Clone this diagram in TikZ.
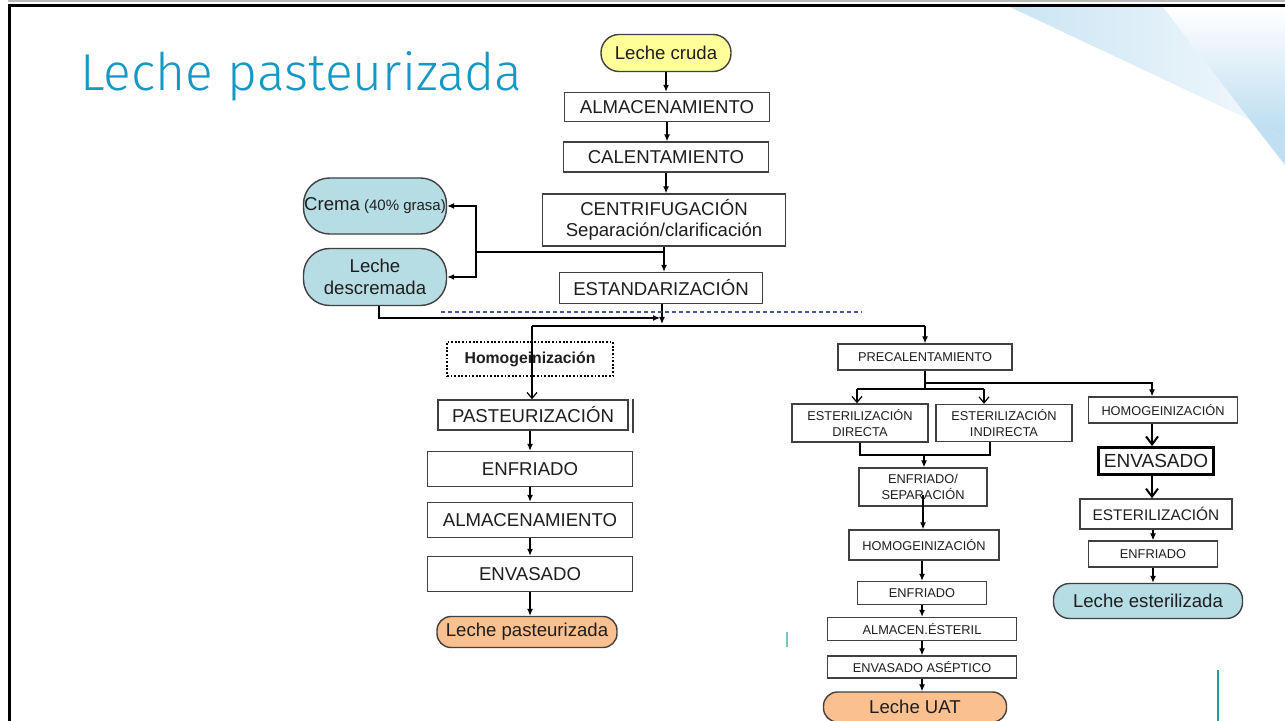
\documentclass[tikz,border=0pt]{standalone}
\usepackage{fontspec}
\setmainfont{Liberation Sans}
\newfontfamily\titlefont{Fira Sans Light}
\usetikzlibrary{arrows.meta}

\definecolor{titleblue}{RGB}{22,152,196}
\definecolor{boxline}{RGB}{64,64,64}
\definecolor{txt}{RGB}{30,30,30}
\definecolor{creamyellow}{RGB}{255,255,153}
\definecolor{skyteal}{RGB}{183,221,228}
\definecolor{peach}{RGB}{250,192,144}
\definecolor{sepline}{RGB}{80,80,160}
\definecolor{wedge}{RGB}{186,220,240}
\definecolor{accent}{RGB}{40,150,170}

\tikzset{
  sz/.style 2 args={minimum width=#1*0.5pt, minimum height=#2*0.5pt},
  box/.style={draw=boxline, line width=0.7pt, fill=white, inner sep=0pt,
              align=center, text=txt},
  lg/.style={font=\fontsize{9.3}{10.8}\selectfont},
  md/.style={font=\fontsize{7.7}{9}\selectfont},
  sm/.style={font=\fontsize{6.4}{7.6}\selectfont},
  flow/.style={draw=black, line width=0.6pt},
  tip/.style={-{Latex[length=3.5pt,width=3pt]}},
  barb/.style={-{Straight Barb[length=3pt,width=5pt]}},
  heavy/.style={draw=black, line width=1pt, -{Straight Barb[length=4pt,width=6pt]}},
}

\begin{document}
\begin{tikzpicture}[x=0.5pt,y=-0.5pt]
\useasboundingbox (0,0) rectangle (1285,721);
\fill[white] (0,0) rectangle (1285,721);

% decorative wedges in the upper right corner
\shade[left color=wedge!75, right color=wedge!25] (1010,7) -- (1163,7) -- (1250,120) -- cycle;
\shade[top color=white, bottom color=wedge] (1163,7) -- (1285,7) -- (1285,137) -- (1250,120) -- cycle;
\fill[wedge!90] (1250,120) -- (1285,137) -- (1285,165) -- cycle;

% slide frame
\draw[gray!55, line width=1pt] (8,1.5) -- (1285,1.5);
\draw[line width=1.75pt] (8,5.5) -- (1285,5.5);
\draw[line width=1.75pt] (9.5,4) -- (9.5,721);

% title
\node[anchor=base west, inner sep=0pt, text=titleblue] (title) at (80,91)
  {\resizebox{221pt}{19.5pt}{\titlefont Leche pasteurizada}};

% main line
\node[box, lg, sz={130}{37}, fill=creamyellow, rounded corners=9pt] (cruda) at (666,53) {Leche cruda};
\node[box, lg, sz={205}{29}] (alm1) at (667,107) {ALMACENAMIENTO};
\node[box, lg, sz={205}{30}] (cal) at (666,157) {CALENTAMIENTO};
\node[box, lg, sz={243}{52}] (cent) at (664,220) {CENTRIFUGACI\'ON\\Separaci\'on/clarificaci\'on};
\node[box, lg, sz={143}{56}, fill=skyteal, rounded corners=13pt] (crema) at (375,206)
  {Crema{\fontsize{7.5}{9}\selectfont\ (40\% grasa)}};
\node[box, lg, sz={143}{57}, fill=skyteal, rounded corners=13pt] (desc) at (375,277) {Leche\\descremada};
\node[box, lg, sz={203}{31}] (est) at (661,288) {ESTANDARIZACI\'ON};

% pasteurised branch
\node[box, draw=black, dash pattern=on 0.9pt off 0.9pt, line width=0.8pt, sz={166}{34},
      font=\fontsize{7.9}{9}\selectfont\bfseries] (homd) at (530,359) {Homogeinizaci\'on};
\node[box, lg, sz={190}{30}] (past) at (533,415) {PASTEURIZACI\'ON};
\node[box, lg, sz={205}{35}] (enf1) at (530,469) {ENFRIADO};
\node[box, lg, sz={205}{35}] (alm2) at (530,520) {ALMACENAMIENTO};
\node[box, lg, sz={205}{35}] (env1) at (530,574) {ENVASADO};
\node[box, lg, sz={180}{31}, fill=peach, rounded corners=7pt] (lpast) at (527,632) {Leche pasteurizada};

% UHT branch
\node[box, sm, sz={174}{26}] (prec) at (925,357) {PRECALENTAMIENTO};
\node[box, sm, sz={136}{38}] (esd) at (860,423) {ESTERILIZACI\'ON\\DIRECTA};
\node[box, sm, sz={136}{37}] (esi) at (1004,423) {ESTERILIZACI\'ON\\INDIRECTA};
\node[box, sm, sz={128}{38}] (enfsep) at (923,487) {ENFRIADO/\\SEPARACI\'ON};
\node[box, sm, sz={150}{30}] (hom2) at (924,545) {HOMOGEINIZACI\'ON};
\node[box, sm, sz={129}{23}] (enf2) at (922,593) {ENFRIADO};
\node[box, sm, sz={189}{23}] (almes) at (922,629) {ALMACEN.\'ESTERIL};
\node[box, sm, sz={189}{22}] (envas) at (922,667) {ENVASADO AS\'EPTICO};
\node[box, lg, sz={183}{30}, fill=peach, rounded corners=7pt] (luat) at (915,707) {Leche UAT};

% sterilised branch
\node[box, sm, sz={149}{26}] (hom3) at (1163,410) {HOMOGEINIZACI\'ON};
\node[box, draw=black, line width=1.4pt, sz={115}{27}, font=\fontsize{9.5}{11}\selectfont] (env3) at (1156,461) {ENVASADO};
\node[box, md, sz={152}{30}] (ester) at (1156,514) {ESTERILIZACI\'ON};
\node[box, sm, sz={129}{26}] (enf3) at (1153,554) {ENFRIADO};
\node[box, lg, sz={189}{35}, fill=skyteal, rounded corners=8pt] (lest) at (1148,601) {Leche esterilizada};

% junction points
\coordinate (cl) at (476,252);
\coordinate (dm) at (660,318);
\coordinate (em) at (662,324);
\coordinate (bl) at (532,326);
\coordinate (br) at (925,326);
\coordinate (p1) at (925,383);
\coordinate (p2) at (925,389);
\coordinate (hr) at (1152,383);
\coordinate (dl) at (857,389);
\coordinate (dr) at (984,389);
\coordinate (bk) at (924,455);
\coordinate (sepL) at (441,312);
\coordinate (sepR) at (862,312);

% main line connectors
\draw[flow,tip] (cruda.south) -- (cruda.south |- alm1.north);
\draw[flow,tip] (alm1.south) -- (alm1.south |- cal.north);
\draw[flow,tip] (cal.south) -- (cal.south |- cent.north);
\draw[flow,tip] (cent.south) -- (cent.south |- est.north);
\draw[line width=1pt] (cent.south |- cl) -- (cl);
\draw[flow,tip] (cl) |- (crema.east);
\draw[flow,tip] (cl) |- (desc.east);
\draw[flow,tip] ([xshift=2pt]desc.south) |- (dm);
\draw[flow,tip] (est.south -| em) -- (em);
\draw[sepline, line width=0.6pt, dash pattern=on 2pt off 1.5pt] (sepL) -- (sepR);
\draw[flow] (bl) -- (br);

% pasteurised branch connectors
\draw[flow,barb] (bl) -- (bl |- past.north);
\draw[boxline, line width=0.8pt] ([xshift=2pt]past.north east) -- ([xshift=2pt,yshift=-1pt]past.south east);
\draw[flow,tip] (past.south -| enf1.north) -- (enf1.north);
\draw[flow,tip] (enf1.south) -- (alm2.north);
\draw[flow,tip] (alm2.south) -- (env1.north);
\draw[flow,tip] (env1.south) -- (env1.south |- lpast.north);

% UHT branch connectors
\draw[flow,tip] (br) -- (br |- prec.north);
\draw[flow] (prec.south) -- (p2);
\draw[flow,tip] (p1) -- (hr) -- (hr |- hom3.north);
\draw[flow] (dl) -- (dr);
\draw[flow,barb] (dl) -- (dl |- esd.north);
\draw[flow,barb] (dr) -- (dr |- esi.north);
\draw[flow] (esd.south) |- (bk) -| ([xshift=-7pt]esi.south);
\draw[flow,tip] (bk) -- (bk |- enfsep.north);
\draw[flow,tip] ([yshift=-4pt]enfsep.center) -- (enfsep.center |- hom2.north);
\draw[flow,tip] (hom2.south -| enf2.north) -- (enf2.north);
\draw[flow,tip] (enf2.south) -- (almes.north -| enf2.south);
\draw[flow,tip] (almes.south) -- (envas.north);
\draw[flow,tip] (envas.south) -- (envas.south |- luat.north);

% sterilised branch connectors
\draw[heavy] ([xshift=-2pt]env3.north |- hom3.south) -- ([xshift=-2pt]env3.north);
\draw[heavy] ([xshift=-2pt]env3.south) -- ([xshift=-2pt]env3.south |- ester.north);
\draw[flow,tip] (ester.south -| enf3.north) -- (enf3.north);
\draw[flow,tip] (enf3.south) -- (enf3.south |- lest.north);

% thin accent marks
\draw[accent, line width=0.8pt] (1218,670) -- (1218,721);
\draw[accent!60, line width=0.8pt] (787,632) -- (787,647);
\end{tikzpicture}
\end{document}
